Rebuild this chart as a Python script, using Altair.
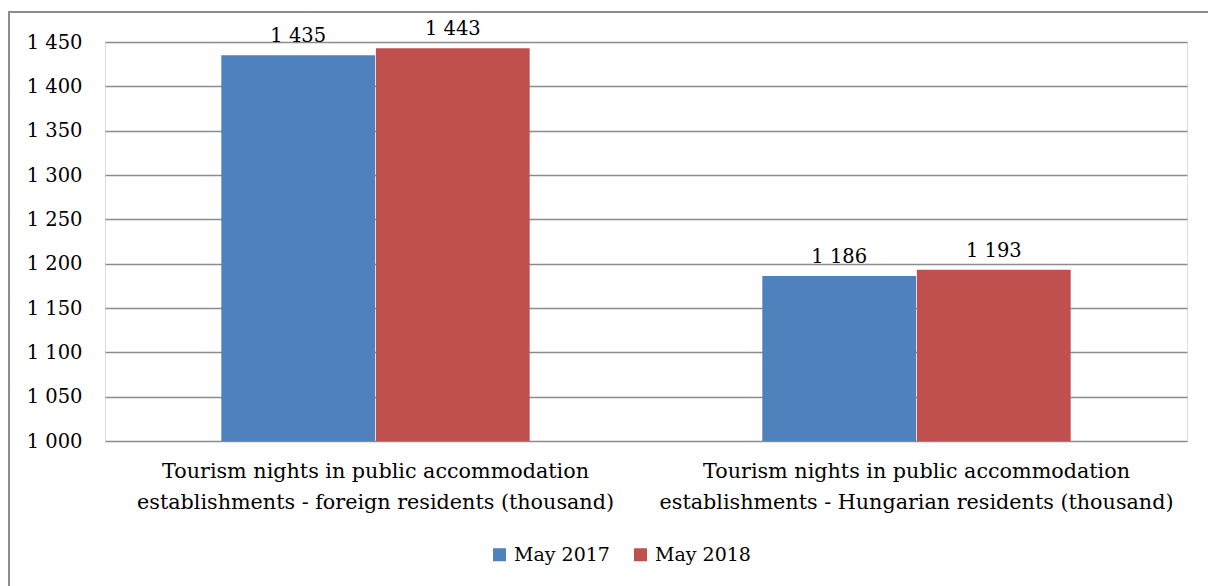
import altair as alt
import pandas as pd

categories = [
    "Tourism nights in public accommodation establishments - foreign residents (thousand)",
    "Tourism nights in public accommodation establishments - Hungarian residents (thousand)",
]
series = ["May 2017", "May 2018"]
values_2017 = [1435, 1186]
values_2018 = [1443, 1193]
colors = ["#4F81BD", "#C0504D"]
y_ticks = [1000, 1050, 1100, 1150, 1200, 1250, 1300, 1350, 1400, 1450]

rows = []
for i, c in enumerate(categories):
    rows.append({"category": c, "series": series[0], "value": values_2017[i]})
    rows.append({"category": c, "series": series[1], "value": values_2018[i]})
df = pd.DataFrame(rows)
df["label"] = df["value"].map(lambda v: f"{v:,}".replace(",", " "))

FONT = "DejaVu Serif"

x_enc = alt.X(
    "category:N",
    sort=categories,
    scale=alt.Scale(paddingInner=0.43, paddingOuter=0.215),
    axis=alt.Axis(
        title=None,
        labelAngle=0,
        labelExpr="[slice(datum.label, 0, 38), slice(datum.label, 39)]",
        labelFontSize=20.7,
        labelFont=FONT,
        labelColor="#000000",
        labelPadding=20,
        labelLineHeight=31,
        ticks=False,
        domain=False,
        labelLimit=600,
    ),
)
y_scale = alt.Scale(domain=[1000, 1450], nice=False, zero=False)
y_enc = alt.Y(
    "value:Q",
    scale=y_scale,
    axis=alt.Axis(
        title=None,
        values=y_ticks,
        labelExpr="replace(format(datum.value, ','), ',', ' ')",
        labelFontSize=19.5,
        labelFont=FONT,
        labelColor="#000000",
        labelPadding=23,
        ticks=False,
        domain=False,
        grid=True,
        gridColor="#8C8C8C",
        gridWidth=1.5,
    ),
)

base = alt.Chart(df)

bars = base.mark_bar(clip=False).encode(
    x=x_enc,
    xOffset=alt.XOffset("series:N", sort=series, scale=alt.Scale(paddingInner=0.005)),
    y=y_enc,
    y2=alt.datum(1000),
    color=alt.Color(
        "series:N",
        sort=series,
        scale=alt.Scale(domain=series, range=colors),
        legend=alt.Legend(
            title=None,
            orient="none",
            legendX=385,
            legendY=503,
            direction="horizontal",
            symbolType="square",
            symbolSize=169,
            symbolStrokeWidth=0,
            labelFontSize=19,
            labelFont=FONT,
            labelColor="#000000",
            columnPadding=21,
            labelOffset=5,
        ),
    ),
)

text = base.mark_text(
    baseline="bottom", dy=-9, fontSize=19.5, font=FONT, color="#000000"
).encode(
    x=alt.X("category:N", sort=categories),
    xOffset=alt.XOffset("series:N", sort=series, scale=alt.Scale(paddingInner=0.005)),
    y=alt.Y("value:Q", scale=y_scale),
    text="label:N",
)

border = alt.Chart(pd.DataFrame({"a": [0]})).mark_rect(
    fill=None, stroke="#8C8C8C", strokeWidth=2, clip=False
).encode(
    x=alt.value(-96), x2=alt.value(1400), y=alt.value(-30), y2=alt.value(800)
)

chart = alt.layer(border, bars, text).properties(
    width=1082,
    height=399,
    autosize=alt.AutoSizeParams(type="none"),
    padding={"left": 105, "top": 42, "right": 21, "bottom": 145},
).configure_view(stroke=None).configure(background="#FFFFFF", font=FONT)

chart.save("out.html", embed_options={"renderer": "svg", "actions": False})
